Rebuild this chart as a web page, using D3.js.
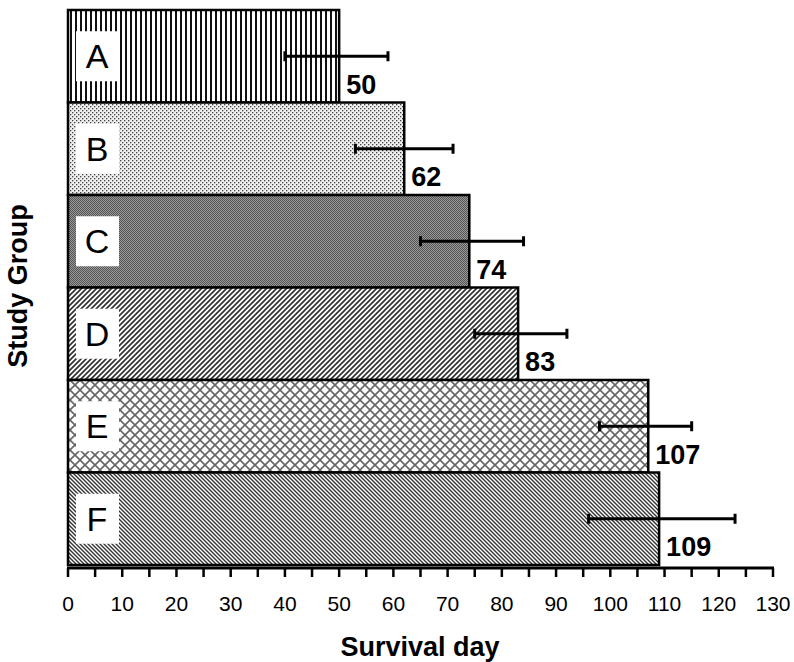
<!DOCTYPE html>
<html lang="en">
<head>
<meta charset="UTF-8">
<title>Survival day by study group</title>
<script src="https://d3js.org/d3.v7.min.js"></script>
<style>
	body { margin: 0; background: #fff; }
	text { font-family: "Liberation Sans", Arial, sans-serif; }
	.tick-label { font-size: 21px; }
	.axis-title { font-size: 27px; font-weight: bold; }
	.value-label { font-size: 27px; font-weight: bold; }
	.group-label { font-size: 34px; }
</style>
</head>
<body>
<svg id="chart" width="794" height="662"></svg>
<script>
const width = 794, height = 662;

const groups = ["A", "B", "C", "D", "E", "F"];
const survival = [50, 62, 74, 83, 107, 109];
const errLow = [40, 53, 65, 75, 98, 96];
const errHigh = [59, 71, 84, 92, 115, 123];
const xTicks = d3.range(0, 131, 10);
const minorTicks = d3.range(5, 130, 10);

const svg = d3.select("#chart");
const x = d3.scaleLinear().domain([0, 130]).range([68, 773]);
const y = d3.scaleBand().domain(groups).range([10, 565]).padding(0);

// fill patterns, one per group
const defs = svg.append("defs");
function pattern(id, w, h, draw) {
	const p = defs.append("pattern").attr("id", id)
		.attr("patternUnits", "userSpaceOnUse").attr("width", w).attr("height", h);
	p.append("rect").attr("width", w).attr("height", h).attr("fill", "#fff");
	draw(p);
}
pattern("pA", 5, 10, p => p.append("rect").attr("x", 0).attr("width", 2).attr("height", 10).attr("fill", "#111"));
pattern("pB", 4, 4, p => {
	p.append("rect").attr("width", 4).attr("height", 4).attr("fill", "#eee");
	p.append("rect").attr("x", 0).attr("y", 0).attr("width", 1.3).attr("height", 1.3).attr("fill", "#444");
	p.append("rect").attr("x", 2).attr("y", 2).attr("width", 1.3).attr("height", 1.3).attr("fill", "#444");
});
pattern("pC", 2, 2, p => {
	p.append("rect").attr("width", 2).attr("height", 2).attr("fill", "#999");
	p.append("rect").attr("width", 1).attr("height", 1).attr("fill", "#555");
	p.append("rect").attr("x", 1).attr("y", 1).attr("width", 1).attr("height", 1).attr("fill", "#555");
});
pattern("pD", 5, 5, p => {
	p.append("path").attr("d", "M-1,1 L1,-1 M0,5 L5,0 M4,6 L6,4").attr("stroke", "#333").attr("stroke-width", 1.7);
});
pattern("pE", 10, 10, p => {
	p.append("path").attr("d", "M0,0 L10,10 M10,0 L0,10").attr("stroke", "#666").attr("stroke-width", 1.6);
});
pattern("pF", 4, 4, p => {
	p.append("path").attr("d", "M-1,3 L1,5 M0,0 L4,4 M3,-1 L5,1").attr("stroke", "#333").attr("stroke-width", 1.4);
});

// bars
svg.selectAll(".bar")
	.data(groups)
	.enter()
	.append("rect")
	.attr("class", "bar")
	.attr("x", x(0))
	.attr("y", d => y(d))
	.attr("width", (d, i) => x(survival[i]) - x(0))
	.attr("height", y.bandwidth())
	.attr("fill", d => `url(#p${d})`)
	.attr("stroke", "#000")
	.attr("stroke-width", 2.5);

// group label boxes
svg.selectAll(".group-box")
	.data(groups)
	.enter()
	.append("rect")
	.attr("x", 76)
	.attr("y", d => y(d) + y.bandwidth() / 2 - 25)
	.attr("width", 43)
	.attr("height", 50)
	.attr("fill", "#fff");

svg.selectAll(".group-label")
	.data(groups)
	.enter()
	.append("text")
	.attr("class", "group-label")
	.attr("x", 97)
	.attr("y", d => y(d) + y.bandwidth() / 2 + 12)
	.attr("text-anchor", "middle")
	.text(d => d);

// error bars
const eb = svg.selectAll(".err").data(groups).enter().append("g");
eb.append("line")
	.attr("x1", (d, i) => x(errLow[i]))
	.attr("x2", (d, i) => x(errHigh[i]))
	.attr("y1", d => y(d) + y.bandwidth() / 2)
	.attr("y2", d => y(d) + y.bandwidth() / 2)
	.attr("stroke", "#000").attr("stroke-width", 3);
[errLow, errHigh].forEach(arr => {
	eb.append("line")
		.attr("x1", (d, i) => x(arr[i]))
		.attr("x2", (d, i) => x(arr[i]))
		.attr("y1", d => y(d) + y.bandwidth() / 2 - 5)
		.attr("y2", d => y(d) + y.bandwidth() / 2 + 5)
		.attr("stroke", "#000").attr("stroke-width", 3);
});

// value labels
svg.selectAll(".value-label")
	.data(groups)
	.enter()
	.append("text")
	.attr("class", "value-label")
	.attr("x", (d, i) => x(survival[i]) + 7)
	.attr("y", d => y(d) + y.bandwidth() - 9)
	.text((d, i) => survival[i]);

// x axis
const axisY = 568;
svg.append("line")
	.attr("x1", x(0) - 1).attr("x2", x(130) + 1)
	.attr("y1", axisY).attr("y2", axisY)
	.attr("stroke", "#000").attr("stroke-width", 3);
svg.selectAll(".tick")
	.data(xTicks.concat(minorTicks))
	.enter()
	.append("line")
	.attr("x1", d => x(d)).attr("x2", d => x(d))
	.attr("y1", axisY).attr("y2", axisY + 9)
	.attr("stroke", "#000").attr("stroke-width", 2.5);
svg.selectAll(".tick-label")
	.data(xTicks)
	.enter()
	.append("text")
	.attr("class", "tick-label")
	.attr("x", d => x(d))
	.attr("y", 611)
	.attr("text-anchor", "middle")
	.text(d => d);

svg.append("text")
	.attr("class", "axis-title")
	.attr("x", 420)
	.attr("y", 656)
	.attr("text-anchor", "middle")
	.text("Survival day");

svg.append("text")
	.attr("class", "axis-title")
	.attr("transform", "translate(27,286) rotate(-90)")
	.attr("text-anchor", "middle")
	.text("Study Group");
</script>
</body>
</html>
